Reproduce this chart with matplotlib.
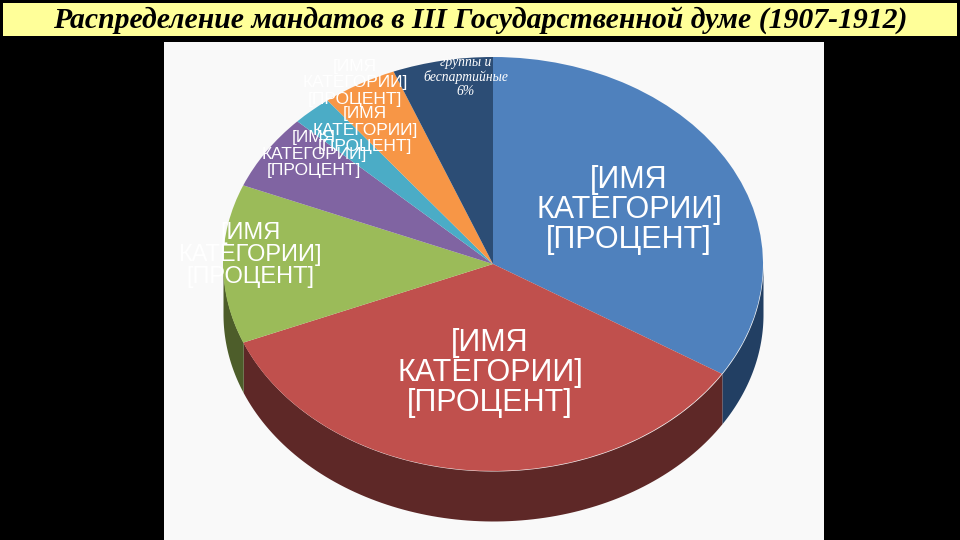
#!/usr/bin/env python3
import matplotlib
matplotlib.use('Agg')
import matplotlib.pyplot as plt
from matplotlib.patches import Rectangle
import numpy as np

TITLE = "Распределение мандатов в III Государственной думе (1907-1912)"
PLACEHOLDER = "[ИМЯ\nКАТЕГОРИИ]\n[ПРОЦЕНТ]"
SMALL_LABEL = "группы и\nбеспартийные\n6%"

shares = [33.9, 34.9, 12.4, 5.9, 2.4, 4.5, 6.0]
top_colors = ['#4f81bd', '#c0504d', '#9bbb59', '#8064a2', '#4bacc6', '#f79646', '#2c4d75']
side_colors = ['#223f63', '#5e2827', '#4d5d2a', '#3f3151', '#255666', '#7b4a22', '#16263a']

W, H = 960, 540
PIE_X, PIE_Y, RX, RY, DEPTH = 493, 264, 270, 207, 50  # pixels

fig = plt.figure(figsize=(W / 100, H / 100), dpi=100, facecolor='black')

# background layer in pixel coordinates
bg = fig.add_axes([0, 0, 1, 1])
bg.set_xlim(0, W)
bg.set_ylim(H, 0)
bg.axis('off')
bg.add_patch(Rectangle((164, 42), 660, 498, facecolor='#f9f9f9', edgecolor='none'))
bg.add_patch(Rectangle((3, 3), 954, 33, facecolor='#ffff99', edgecolor='none'))
bg.text(480, 20, TITLE, ha='center', va='center', fontsize=21.4, color='black',
        family='Liberation Serif', style='italic', fontweight='bold')

# pie axes: unit radius stretched to an ellipse
d = DEPTH / RY
ax = fig.add_axes([(PIE_X - RX) / W, 1 - (PIE_Y + RY + DEPTH) / H,
                   2 * RX / W, (2 * RY + DEPTH) / H])
ax.patch.set_alpha(0)
wedges, _ = ax.pie(shares, colors=top_colors, startangle=90, counterclock=False,
                   radius=1, wedgeprops=dict(linewidth=0, zorder=3))
ax.set_aspect('auto')
ax.set_xlim(-1, 1)
ax.set_ylim(-1 - d, 1)

# side wall: only the part of each wedge on the lower half is visible
for w, c in zip(wedges, side_colors):
    a1, a2 = w.theta1 % 360, w.theta2 % 360
    if a2 <= a1:
        a2 += 360
    for lo, hi in [(180, 360), (540, 720)]:
        s, e = max(a1, lo), min(a2, hi)
        if e > s:
            t = np.radians(np.linspace(s, e, 100))
            ax.fill_between(np.cos(t), np.sin(t), np.sin(t) - d, color=c, lw=0, zorder=1)

# labels, centre positions in pixels
for x, y, size, spacing in [(629, 210, 22, 1.0), (490, 373, 22, 1.0), (250, 255, 17, 1.0),
                            (314, 154, 12.5, 1.13), (365, 130, 12.5, 1.13), (355, 83, 12.5, 1.13)]:
    fig.text(x / W, 1 - y / H, PLACEHOLDER, fontsize=size, ha='center', va='center',
             color='white', family='Liberation Sans', linespacing=spacing)
fig.text(466 / W, 1 - 77 / H, SMALL_LABEL, fontsize=9.8, ha='center', va='center', color='white',
         family='Liberation Serif', style='italic', linespacing=1.1)

fig.savefig('out.png', dpi=100, facecolor=fig.get_facecolor())
